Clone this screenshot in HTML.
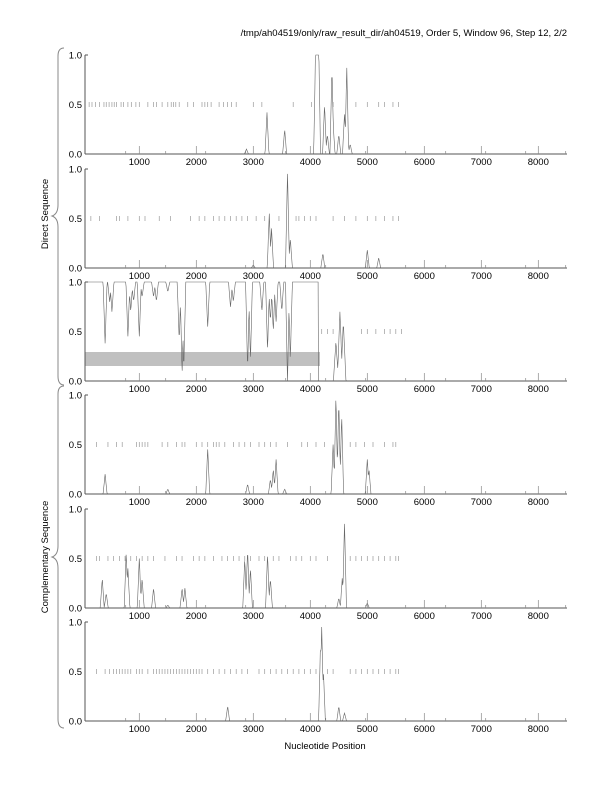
<!DOCTYPE html>
<html><head><meta charset="utf-8"><style>
html,body{margin:0;padding:0;background:#fff;}
svg text{font-family:"Liberation Sans",sans-serif;font-size:9.5px;fill:#000;}
</style></head><body>
<svg id="s" width="612" height="792" xmlns="http://www.w3.org/2000/svg">
<text x="567" y="36" text-anchor="end">/tmp/ah04519/only/raw_result_dir/ah04519, Order 5, Window 96, Step 12, 2/2</text>
<text x="325" y="749" text-anchor="middle">Nucleotide Position</text>
<path d="M64,48 Q58,48 58,56 L58,205 Q58,214 52,216 Q58,218 58,227 L58,376 Q58,385 64,385" fill="none" stroke="#888" stroke-width="1"/>
<path d="M64,386 Q58,386 58,394 L58,546 Q58,555 52,557 Q58,559 58,568 L58,719 Q58,728 64,728" fill="none" stroke="#888" stroke-width="1"/>
<text transform="translate(48,214) rotate(-90)" text-anchor="middle">Direct Sequence</text>
<text transform="translate(48,557) rotate(-90)" text-anchor="middle">Complementary Sequence</text>
</svg>
<script>
var s=document.getElementById('s'),NS='http://www.w3.org/2000/svg';
function el(t,a,txt){var e=document.createElementNS(NS,t);for(var k in a)e.setAttribute(k,a[k]);if(txt)e.textContent=txt;s.appendChild(e);return e;}
var X0=82.3,K=0.057,XL=85,XR=567;
function px(n){return X0+n*K;}
var tops=[55,169,282,395,509,622];
var P=[
 {pk:[[4380,0.87],[4400,0.3],[4640,0.87],[3240,0.42],[3550,0.25],[4500,0.2],[4250,0.5],[4300,0.2],[2880,0.05],[4600,0.4],[4700,0.1]],flat:[4060,4180],
  dash:[120,170,230,300,380,420,470,520,560,600,680,720,800,860,940,1000,1150,1250,1300,1400,1500,1560,1600,1640,1700,1850,1950,2100,2150,2200,2260,2400,2480,2550,2620,2700,3000,3150,3700,4020,4400,4800,5000,5200,5300,5450,5550]},
 {pk:[[3600,0.95],[3280,0.55],[3320,0.4],[3650,0.3],[4220,0.15],[5000,0.18],[5200,0.1],[3000,0.03]],
  dash:[150,300,600,650,800,1000,1100,1350,1550,1900,2050,2150,2300,2400,2500,2600,2700,2800,2900,3050,3200,3450,3750,3800,3900,4000,4100,4400,4600,4800,5000,5150,5300,5450,5550]},
 {dips:[[400,0.62],[480,0.2],[520,0.3],[800,0.55],[850,0.3],[900,0.2],[1000,0.55],[1050,0.15],[1250,0.15],[1300,0.2],[1500,0.1],[1700,0.6],[1750,0.95],[1780,0.9],[2200,0.45],[2600,0.25],[2650,0.2],[2900,0.9],[2950,0.8],[3150,0.3],[3250,0.7],[3300,0.4],[3350,0.5],[3400,0.4],[3500,0.3],[3600,1],[3650,0.8]],
  pk:[[4450,0.4],[4520,0.7],[4580,0.6]],dash:[4200,4300,4400,4900,5000,5150,5300,5400,5500,5600]},
 {pk:[[4450,1],[4500,0.95],[4550,0.8],[4400,0.5],[5000,0.35],[5030,0.25],[2200,0.45],[3350,0.25],[3400,0.35],[3300,0.15],[400,0.2],[2900,0.1],[1500,0.05],[3550,0.05]],
  dash:[250,450,600,700,950,1000,1050,1100,1150,1400,1500,1650,1750,1800,2000,2100,2200,2300,2350,2400,2500,2650,2750,2850,2950,3100,3200,3300,3400,3600,3850,3950,4100,4250,4700,4800,4950,5100,5300,5450,5500]},
 {pk:[[4600,0.85],[4560,0.3],[350,0.3],[420,0.15],[770,0.57],[800,0.4],[1000,0.5],[1050,0.3],[1250,0.2],[1750,0.2],[1800,0.2],[2850,0.5],[2900,0.6],[2950,0.4],[3250,0.55],[3300,0.3],[4500,0.1],[5000,0.05],[1500,0.03]],
  dash:[250,300,450,550,650,750,850,950,1050,1150,1250,1450,1650,1750,1950,2050,2150,2300,2450,2550,2650,2750,2850,2950,3100,3200,3350,3450,3650,3750,3850,4000,4100,4300,4700,4800,4900,5000,5100,5200,5300,5400,5500,5550]},
 {pk:[[4200,0.95],[4180,0.8],[4230,0.5],[2550,0.15],[4500,0.15],[4600,0.08]],
  dash:[250,400,480,550,600,650,700,750,800,850,950,1000,1050,1150,1250,1300,1350,1400,1450,1500,1550,1600,1650,1700,1750,1800,1850,1900,1950,2000,2050,2100,2200,2300,2400,2500,2600,2700,2800,2900,3100,3200,3300,3400,3500,3600,3700,3800,3900,4000,4100,4300,4400,4700,4800,4900,5000,5100,5200,5300,5400,5500,5550]}
];
function tri(list,n,w){var m=0;list.forEach(function(p){var d=Math.abs(n-p[0]);if(d<w){var v=p[1]*(1-d/w);if(v>m)m=v;}});return m;}
P.forEach(function(p,i){
 var t=tops[i],b=t+99,h=99;
 if(i==2) el('rect',{x:85,y:352,width:235,height:14,fill:'#c0c0c0'});
 p.dash.forEach(function(n){el('line',{x1:px(n),x2:px(n),y1:t+47,y2:t+52,stroke:'#999','stroke-width':0.7});});
 var pts=[];
 for(var n=0;n<=8500;n+=8){var v;
  if(i==2){ if(n<4140) v=1-tri(p.dips,n,35); else v=tri(p.pk,n,45);
    if(n<50) v=1; }
  else { v=tri(p.pk,n,35);
    if(p.flat){var f=p.flat;if(n>=f[0]&&n<=f[1])v=Math.max(v,Math.min(1,(n-f[0])/30,(f[1]-n)/30));} }
  var x=px(n); if(x<XL) continue; if(x>XR) break;
  pts.push(x.toFixed(1)+','+(b-v*h).toFixed(1));}
 el('polyline',{points:pts.join(' '),fill:'none',stroke:'#666','stroke-width':0.6});
 el('line',{x1:XL,x2:XL,y1:t,y2:b,stroke:'#555','stroke-width':1});
 el('line',{x1:XL,x2:XL+3,y1:t,y2:t,stroke:'#555','stroke-width':1});
 el('line',{x1:XL,x2:XR,y1:b,y2:b,stroke:'#555','stroke-width':1});
 [[1,'1.0'],[0.5,'0.5'],[0,'0.0']].forEach(function(q){el('text',{x:82,y:b-q[0]*h+3.5,'text-anchor':'end'},q[1]);});
 for(var k=1;k<=8;k++){var x=px(k*1000);el('line',{x1:x,x2:x,y1:b-8,y2:b,stroke:'#888','stroke-width':0.7});
  el('text',{x:x,y:b+11,'text-anchor':'middle'},String(k*1000));}
 for(var x=125.7;x<XR;x+=40)el('line',{x1:x,x2:x,y1:b-3,y2:b,stroke:'#888','stroke-width':0.7});
});
</script>
</body></html>
